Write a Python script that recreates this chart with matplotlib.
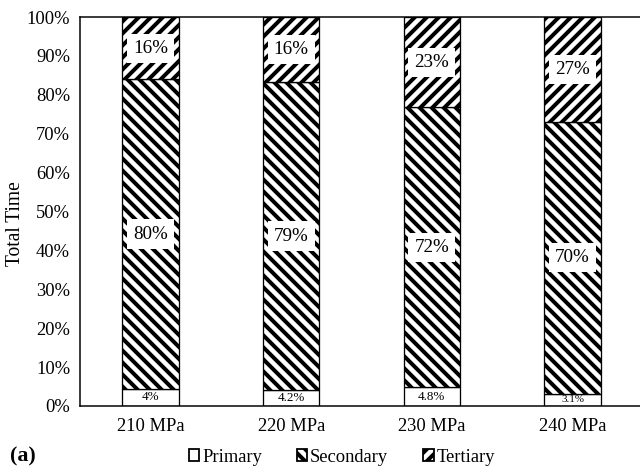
import matplotlib
matplotlib.use("Agg")
import matplotlib.pyplot as plt
from matplotlib.patches import Patch

categories = ["210 MPa", "220 MPa", "230 MPa", "240 MPa"]
primary = [4.4, 4.2, 4.8, 3.1]
secondary = [79.6, 79.0, 72.0, 70.0]
tertiary = [16.0, 16.8, 23.2, 26.9]
primary_labels = ["4%", "4.2%", "4.8%", "3.1%"]
secondary_labels = ["80%", "79%", "72%", "70%"]
tertiary_labels = ["16%", "16%", "23%", "27%"]
primary_label_sizes = [13, 13, 13, 11]
yticks = [0, 10, 20, 30, 40, 50, 60, 70, 80, 90, 100]

plt.rcParams['font.family'] = ['Liberation Serif', 'DejaVu Serif']
plt.rcParams['hatch.linewidth'] = 4.0

DPI = 72
fig = plt.figure(figsize=(640 / DPI, 467 / DPI), dpi=DPI)
ax = fig.add_axes([80 / 640, 61 / 467, 563 / 640, 389 / 467])

x = list(range(len(categories)))
w = 0.4
ax.bar(x, primary, w, color="white", edgecolor="black", linewidth=1.3, label="Primary")
ax.bar(x, secondary, w, bottom=primary, color="white", edgecolor="black",
       linewidth=1.3, hatch="\\\\", label="Secondary")
bottoms2 = [p + s for p, s in zip(primary, secondary)]
ax.bar(x, tertiary, w, bottom=bottoms2, color="white", edgecolor="black",
       linewidth=1.3, hatch="//", label="Tertiary")

box = dict(facecolor="white", edgecolor="none", pad=6)
for i in x:
    ax.text(i, primary[i] / 2, primary_labels[i], ha="center", va="center",
            fontsize=primary_label_sizes[i])
    ax.text(i, primary[i] + secondary[i] / 2, secondary_labels[i], ha="center",
            va="center", fontsize=19, bbox=box)
    ax.text(i, bottoms2[i] + tertiary[i] / 2, tertiary_labels[i], ha="center",
            va="center", fontsize=19, bbox=box)

ax.set_xlim(-0.5, 3.5)
ax.set_ylim(0, 100)
ax.set_yticks(yticks)
ax.set_yticklabels([f"{t}%" for t in yticks])
ax.set_xticks(x)
ax.set_xticklabels(categories)
ax.tick_params(axis="both", length=0, labelsize=18.5)
ax.tick_params(axis="y", pad=10)
ax.tick_params(axis="x", pad=12)
for s in ax.spines.values():
    s.set_linewidth(1.5)
ax.set_ylabel("Total Time", fontsize=19.5)
ax.yaxis.set_label_coords(-0.098, 0.47)

handles = [Patch(facecolor="white", edgecolor="black", linewidth=1.8),
           Patch(facecolor="white", edgecolor="black", linewidth=1.8, hatch="\\\\"),
           Patch(facecolor="white", edgecolor="black", linewidth=1.8, hatch="//")]
fig.legend(handles, ["Primary", "Secondary", "Tertiary"], loc="center",
           bbox_to_anchor=(342 / 640, 1 - 457 / 467), ncol=3, frameon=False,
           fontsize=18.5, handlelength=0.55, handleheight=0.55, handletextpad=0.15,
           columnspacing=1.9, borderaxespad=0, borderpad=0)

fig.text(10 / 640, 1 - 456 / 467, "(a)", fontsize=22, fontweight="bold",
         ha="left", va="center")

fig.savefig("out.png", dpi=DPI)
